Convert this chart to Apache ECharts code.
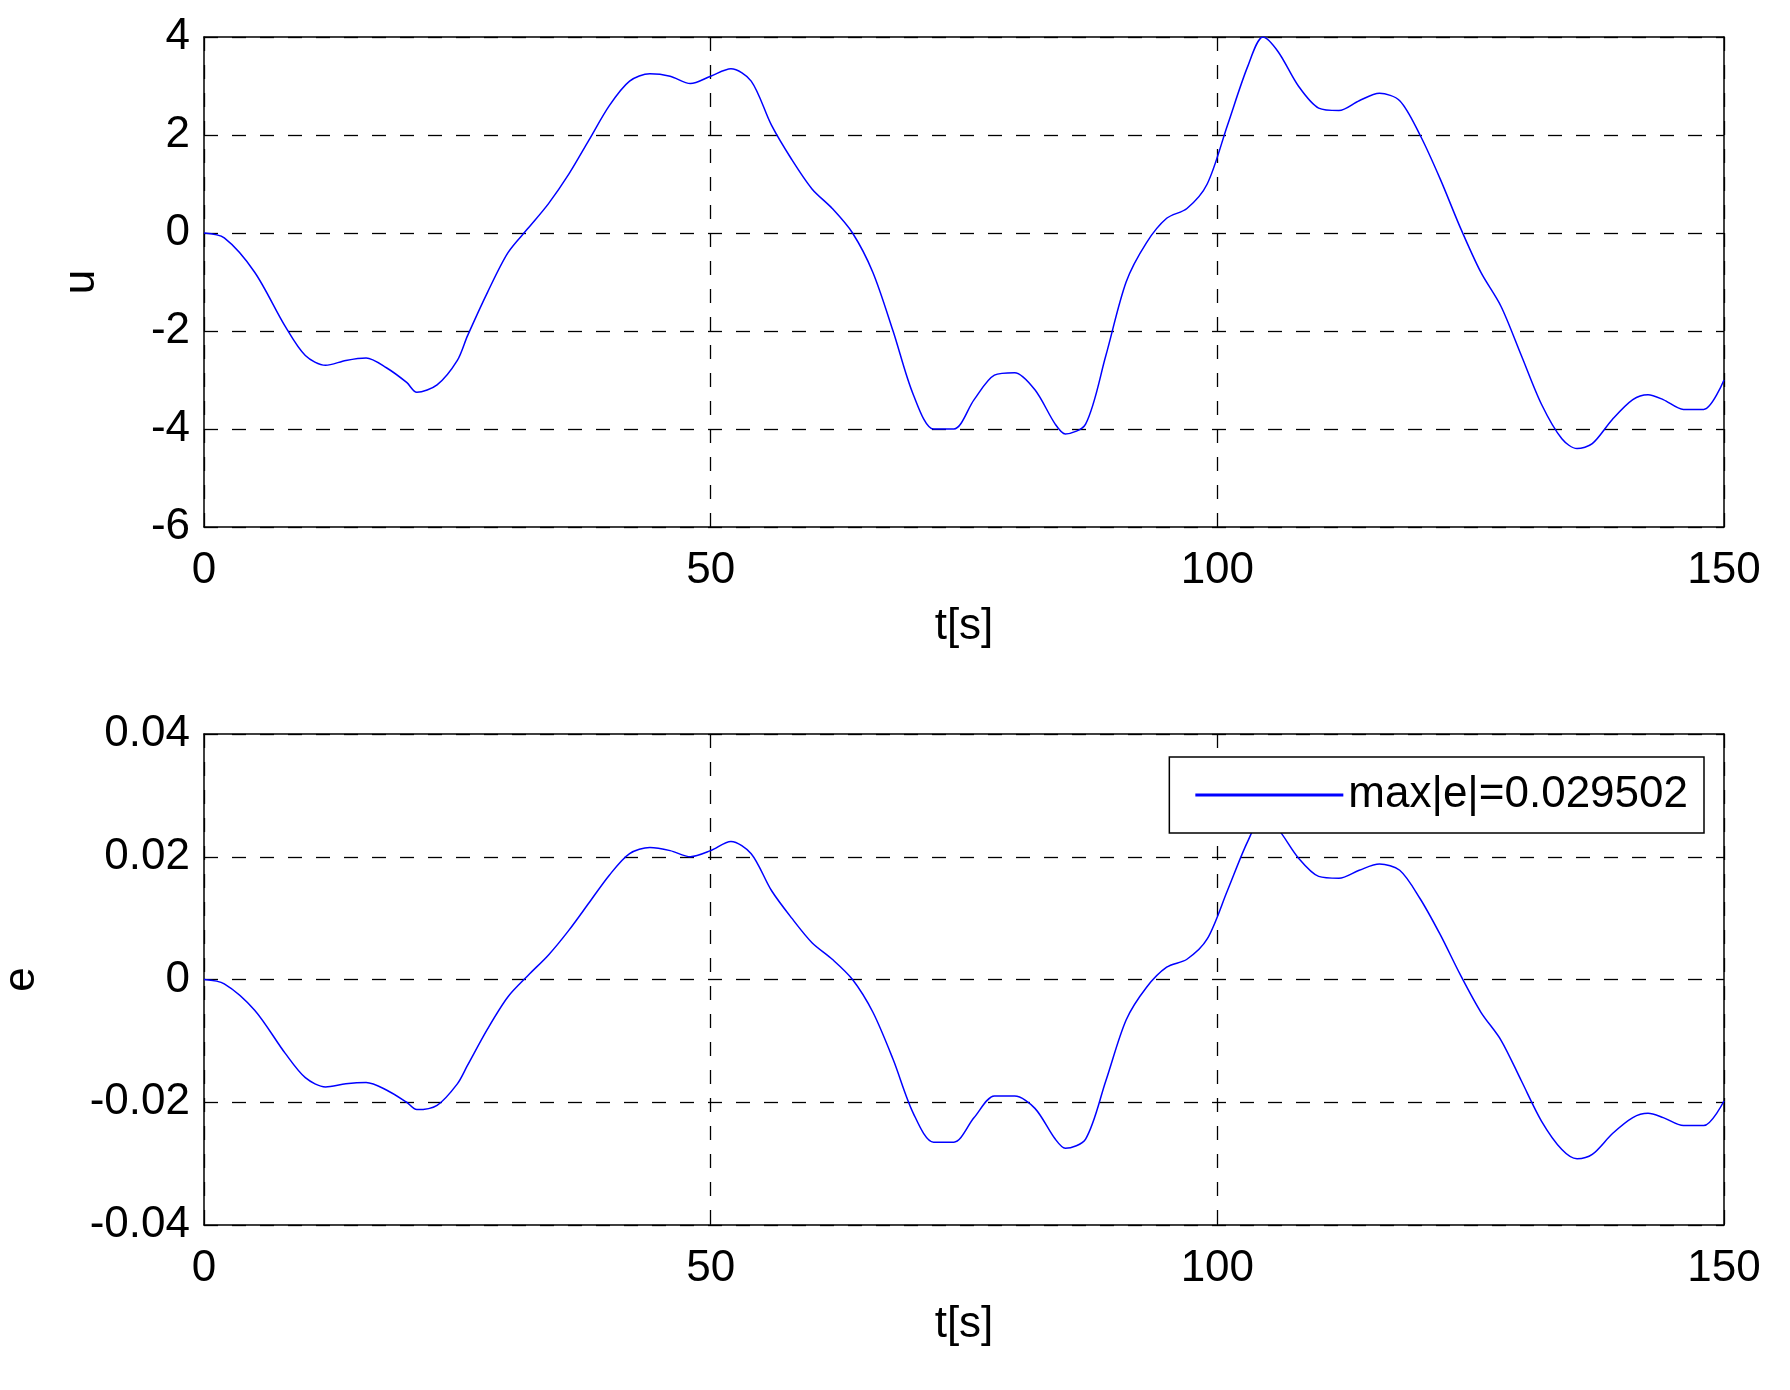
<!DOCTYPE html>
<html>
<head>
<meta charset="utf-8">
<script src="https://cdn.jsdelivr.net/npm/echarts@6/dist/echarts.min.js"></script>
<style>
  body { margin: 0; background: #fff; }
  #main { width: 1790px; height: 1390px; }
</style>
</head>
<body>
<div id="main"></div>
<script>
  // u(t)
  var uData = [
    [0, 0], [2, -0.1], [5, -0.8], [8, -1.9], [10, -2.5], [12, -2.7], [14, -2.6], [16, -2.55],
    [18, -2.75], [20, -3.05], [21, -3.25], [23, -3.1], [25, -2.6], [26, -2.1], [28, -1.2],
    [30, -0.4], [32, 0.1], [34, 0.6], [36, 1.2], [38, 1.9], [40, 2.6], [42, 3.1], [44, 3.25],
    [46, 3.2], [48, 3.05], [50, 3.2], [52, 3.35], [54, 3.1], [56, 2.2], [58, 1.5], [60, 0.9],
    [62, 0.5], [64, 0.0], [66, -0.8], [68, -2.0], [70, -3.3], [72, -4.0], [74, -4.0], [76, -3.4],
    [78, -2.9], [80, -2.85], [82, -3.2], [84, -3.9], [85, -4.1], [87, -3.9], [89, -2.5], [91, -1.0],
    [93, -0.2], [95, 0.3], [97, 0.5], [99, 1.0], [101, 2.2], [103, 3.4], [104.5, 4.0], [106, 3.7],
    [108, 3.0], [110, 2.55], [112, 2.5], [114, 2.7], [116, 2.85], [118, 2.7], [120, 2.0], [122, 1.1],
    [124, 0.1], [126, -0.8], [128, -1.5], [130, -2.5], [132, -3.5], [134, -4.2], [135.5, -4.4],
    [137, -4.3], [139, -3.8], [141, -3.4], [142.5, -3.3], [144, -3.4], [146, -3.6], [148, -3.6], [150, -3.0]
  ];
  // e(t)
  var eData = [
    [0, 0], [2, -0.0007], [5, -0.005], [8, -0.012], [10, -0.016], [12, -0.0175], [14, -0.017], [16, -0.0168],
    [18, -0.018], [20, -0.020], [21, -0.0212], [23, -0.0205], [25, -0.017], [26, -0.014], [28, -0.008],
    [30, -0.0028], [32, 0.0007], [34, 0.004], [36, 0.008], [38, 0.0125], [40, 0.017], [42, 0.0205], [44, 0.0215],
    [46, 0.021], [48, 0.020], [50, 0.021], [52, 0.0225], [54, 0.0205], [56, 0.0145], [58, 0.01], [60, 0.006],
    [62, 0.0033], [64, 0.0], [66, -0.0053], [68, -0.013], [70, -0.0218], [72, -0.0265], [74, -0.0265], [76, -0.0225],
    [78, -0.019], [80, -0.019], [82, -0.021], [84, -0.026], [85, -0.0275], [87, -0.026], [89, -0.0165], [91, -0.0066],
    [93, -0.0013], [95, 0.002], [97, 0.0033], [99, 0.0066], [101, 0.0145], [103, 0.0225], [104.5, 0.0265], [106, 0.0245],
    [108, 0.0198], [110, 0.0168], [112, 0.0165], [114, 0.0178], [116, 0.0188], [118, 0.0178], [120, 0.0132], [122, 0.0073],
    [124, 0.0007], [126, -0.0053], [128, -0.0099], [130, -0.0165], [132, -0.0231], [134, -0.0277], [135.5, -0.0292],
    [137, -0.0285], [139, -0.0251], [141, -0.0225], [142.5, -0.0218], [144, -0.0225], [146, -0.0238], [148, -0.0238], [150, -0.0198]
  ];
  var legendText = 'max|e|=0.029502';

  var font = 'Liberation Sans, Arial, sans-serif';
  var lbl = { color: '#000', fontSize: 44, fontFamily: font };
  var nameSty = { color: '#000', fontSize: 44, fontFamily: font };
  var split = { show: true, lineStyle: { color: '#000', type: [14, 14], width: 1.3 } };
  var axLine = { show: true, onZero: false, lineStyle: { color: '#000', width: 1.5 } };
  var tick = { show: true, inside: true, length: 8, lineStyle: { color: '#000' } };

  function xAxis(i) {
    return {
      gridIndex: i, type: 'value', min: 0, max: 150, interval: 50,
      name: 't[s]', nameLocation: 'middle', nameGap: 78, nameTextStyle: nameSty,
      axisLabel: Object.assign({ margin: 22 }, lbl), axisLine: axLine, axisTick: tick, splitLine: split
    };
  }
  function topX(i) {
    return { gridIndex: i, type: 'value', min: 0, max: 150, position: 'top',
      axisLine: axLine, axisTick: { show: false }, axisLabel: { show: false }, splitLine: { show: false } };
  }
  function rightY(i, mn, mx) {
    return { gridIndex: i, type: 'value', min: mn, max: mx, position: 'right',
      axisLine: axLine, axisTick: { show: false }, axisLabel: { show: false }, splitLine: { show: false } };
  }

  var chart = echarts.init(document.getElementById('main'));
  chart.setOption({
    animation: false,
    backgroundColor: '#fff',
    grid: [
      { left: 204, right: 66, top: 37, height: 490, containLabel: false, outerBoundsMode: 'none' },
      { left: 204, right: 66, top: 734, height: 491, containLabel: false, outerBoundsMode: 'none' }
    ],
    xAxis: [xAxis(0), xAxis(1), topX(0), topX(1)],
    yAxis: [
      { gridIndex: 0, type: 'value', min: -6, max: 4, interval: 2,
        name: 'u', nameLocation: 'middle', nameGap: 100, nameRotate: 90, nameTextStyle: nameSty,
        axisLabel: Object.assign({ margin: 14 }, lbl), axisLine: axLine, axisTick: tick, splitLine: split },
      { gridIndex: 1, type: 'value', min: -0.04, max: 0.04, interval: 0.02,
        name: 'e', nameLocation: 'middle', nameGap: 160, nameRotate: 90, nameTextStyle: nameSty,
        axisLabel: Object.assign({ margin: 14, formatter: function (v) { return v === 0 ? '0' : v.toFixed(2); } }, lbl),
        axisLine: axLine, axisTick: tick, splitLine: split },
      rightY(0, -6, 4), rightY(1, -0.04, 0.04)
    ],
    legend: {
      right: 86, top: 757, data: [legendText],
      backgroundColor: '#fff', borderColor: '#000', borderWidth: 1.5,
      padding: [16, 16, 16, 26], itemWidth: 148, itemHeight: 3, itemGap: 10,
      textStyle: { color: '#000', fontSize: 44, fontFamily: font },
      icon: 'rect'
    },
    series: [
      { type: 'line', xAxisIndex: 0, yAxisIndex: 0, data: uData, showSymbol: false, smooth: 0.3,
        lineStyle: { color: '#0000ff', width: 1.5 }, itemStyle: { color: '#0000ff' } },
      { type: 'line', name: legendText, xAxisIndex: 1, yAxisIndex: 1, data: eData, showSymbol: false, smooth: 0.3,
        lineStyle: { color: '#0000ff', width: 1.5 }, itemStyle: { color: '#0000ff' } }
    ]
  });
</script>
</body>
</html>
